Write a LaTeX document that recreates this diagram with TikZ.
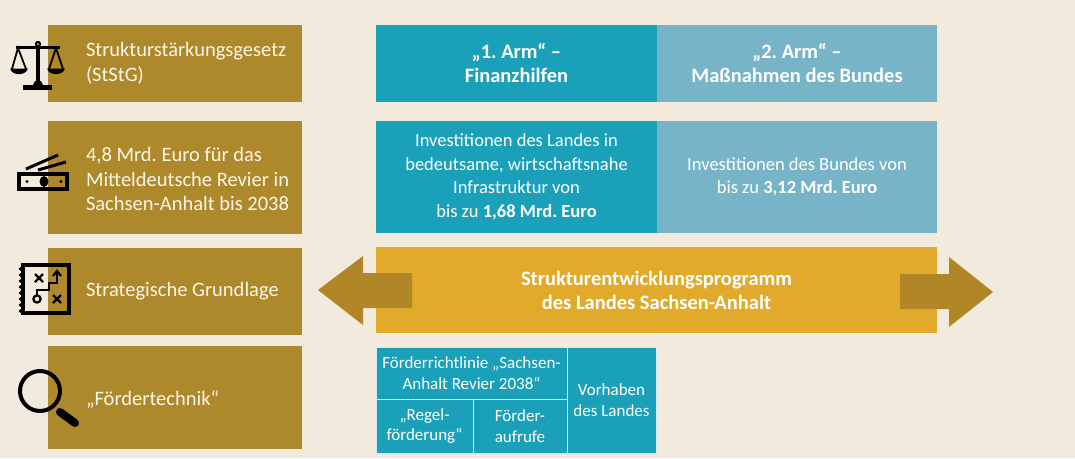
\documentclass[tikz,border=0pt]{standalone}
\usepackage{fontspec}
\setmainfont{Carlito}
\usepackage{tikz}
\usetikzlibrary{calc, positioning}
\definecolor{bgcream}{RGB}{242,235,221}
\definecolor{ochre}{RGB}{174,137,44}
\definecolor{armteal}{RGB}{27,160,185}
\definecolor{armblue}{RGB}{120,180,199}
\definecolor{progyellow}{RGB}{225,170,43}
\definecolor{arrowochre}{RGB}{176,134,38}
\definecolor{lighttext}{RGB}{252,246,232}
\frenchspacing
\tikzset{
    semithick,
    leftbox/.style = {rectangle, fill=ochre, minimum width=254pt, inner sep=0pt},
    lefttext/.style = {anchor=west, align=left, inner sep=0pt, text=lighttext,
                       font=\fontsize{20.5}{24.5}\selectfont},
    arm/.style = {rectangle, minimum width=281pt, inner sep=0pt, align=center, text=white},
    armhead/.style = {arm, font=\bfseries\fontsize{20.5}{24}\selectfont},
    armbody/.style = {arm, font=\fontsize{18.5}{23.5}\selectfont},
    cell/.style = {rectangle, fill=armteal, draw=white!80!armteal, line width=0.8pt,
                   inner sep=0pt, align=center, text=white, font=\fontsize{17}{20.5}\selectfont},
    bigarrow/.style = {fill=arrowochre},
    icon/.style = {draw=black, line width=3.5pt}
    }

\begin{document}
\begin{tikzpicture}[x=1pt, y=-1pt]
    \fill[bgcream] (0,0) rectangle (1075,458);
    \useasboundingbox (0,0) rectangle (1075,458);

    \node (gesetz) at (175,63.5)  [leftbox, minimum height=77pt] {};
    \node (geld) at (175,177.5)   [leftbox, minimum height=113pt] {};
    \node (grundlage) at (175,291.5) [leftbox, minimum height=87pt] {};
    \node (technik) at (175,397.5) [leftbox, minimum height=103pt] {};

    \node (gesetz-t) at ([xshift=38pt]gesetz.west) [lefttext] {Strukturstärkungsgesetz\\(StStG)};
    \node (geld-t) at ([xshift=38pt, yshift=-1.5pt]geld.west) [lefttext] {4,8 Mrd. Euro für das\\Mitteldeutsche Revier in\\Sachsen-Anhalt bis 2038};
    \node (grundlage-t) at ([xshift=38pt]grundlage.west) [lefttext] {Strategische Grundlage};
    \node (technik-t) at ([xshift=38pt, yshift=-2.5pt]technik.west) [lefttext] {„Fördertechnik“};

    \node (arm1) at (516.5,63.5) [armhead, fill=armteal, minimum height=77pt] {„1. Arm“ –\\Finanzhilfen};
    \node (arm2) at (797,63.5)   [armhead, fill=armblue, minimum height=77pt, minimum width=280pt] {„2. Arm“ –\\Maßnahmen des Bundes};
    \node (land) at (516.5,177)  [armbody, fill=armteal, minimum height=112pt] {Investitionen des Landes in\\bedeutsame, wirtschaftsnahe\\Infrastruktur von\\bis zu \textbf{1,68 Mrd. Euro}};
    \node (bund) at (797,177)    [armbody, fill=armblue, minimum height=112pt, minimum width=280pt] {Investitionen des Bundes von\\bis zu \textbf{3,12 Mrd. Euro}};

    \node (programm) at (656.5,290) [rectangle, fill=progyellow, minimum width=561pt, minimum height=86pt,
        inner sep=0pt, align=center, text=white, font=\bfseries\fontsize{20.5}{24}\selectfont]
        {Strukturentwicklungsprogramm\\des Landes Sachsen-Anhalt};

    \fill[bigarrow] (318,290) -- (363,256) -- (363,273) -- (412,273) -- (412,308) -- (363,308) -- (363,325) -- cycle;
    \fill[bigarrow] (993,292) -- (949,257) -- (949,274) -- (900,274) -- (900,309) -- (949,309) -- (949,327) -- cycle;

    \node (richtlinie) at (471.5,373) [cell, minimum width=191pt, minimum height=52pt] {Förderrichtlinie „Sachsen-\\Anhalt Revier 2038“};
    \node (regel) at (424.5,426)      [cell, minimum width=97pt, minimum height=54pt] {„Regel-\\förderung“};
    \node (aufrufe) at (520,426)      [cell, minimum width=94pt, minimum height=54pt] {Förder-\\aufrufe};
    \node (vorhaben) at (611.5,400)   [cell, minimum width=89pt, minimum height=106pt] {Vorhaben\\des Landes};

    % scales
    \draw[icon] (38,44) -- (38,85);
    \draw[icon, line width=3pt] (16,47) -- (60,47);
    \fill (38,44) circle (3.2);
    \fill[bgcream] (38,44) circle (1);
    \draw[line width=1.8pt] (12,69) -- (18,48) -- (26,69);
    \draw[line width=1.8pt] (49,69) -- (56,48) -- (63,69);
    \fill (10,68.5) .. controls (12,76) and (26,76) .. (28,68.5) -- cycle;
    \fill (47,68.5) .. controls (49,76) and (63,76) .. (65,68.5) -- cycle;
    \fill (33,85) -- (35,81) -- (41,81) -- (43,85) -- cycle;
    \fill (23,85) rectangle (52,90);

    % money
    \draw[icon] (19,174) rectangle (67,189);
    \fill (44,181.5) ellipse [x radius=4.5, y radius=5.5];
    \fill (27,181.5) circle (1.7);
    \fill (61,181.5) circle (1.7);
    \draw[line width=3pt] (26,169) -- (58,155);
    \draw[line width=3pt] (38,170) -- (66,162);

    % strategy
    \draw[icon] (23,265) rectangle (69,313);
    \foreach \yb in {269,275,...,311}
        \fill (20.5,\yb) circle (1.8);
    \draw[line width=2.4pt] (35,274) -- (43,282) (35,282) -- (43,274);
    \draw[line width=2.4pt] (53,295) -- (61,303) (53,303) -- (61,295);
    \draw[line width=2.2pt] (37,299) circle (3.6);
    \draw[line width=2.2pt] (37,295) -- (37,290) -- (49,290) -- (49,283) -- (57,283) -- (57,272);
    \draw[line width=2.2pt] (53,276) -- (57,271) -- (61,276);

    % magnifier
    \draw[line width=4pt] (40,391) circle (20);
    \draw[line width=8pt, line cap=round] (60,412) -- (75,423);
\end{tikzpicture}
\end{document}
